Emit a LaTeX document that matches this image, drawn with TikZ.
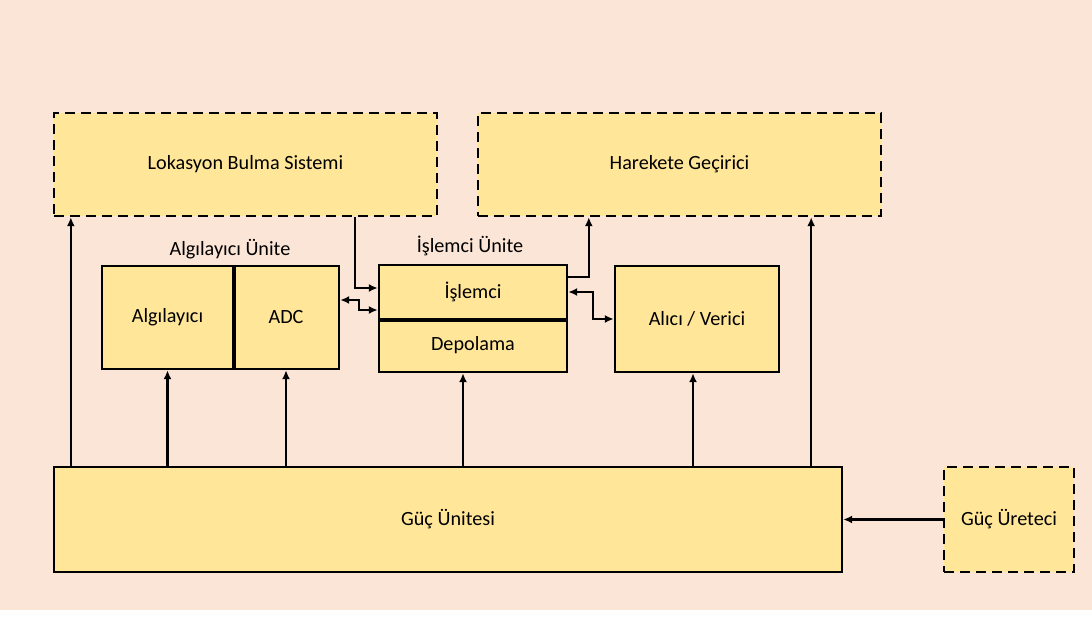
\documentclass[tikz,border=0pt]{standalone}
\usepackage{fontspec}
\setmainfont{Carlito}
\usetikzlibrary{arrows.meta}
\definecolor{bgpeach}{HTML}{FBE5D6}
\definecolor{boxgold}{HTML}{FFE699}

\begin{document}
\begin{tikzpicture}[x=1pt,y=-1pt]
		\tikzset{
			box/.style ={
				rectangle, %矩形节点
				inner sep=0pt, %文字和边框的距离
				draw=black, %边框颜色
				line width=2.4pt, %边框粗细
				fill=boxgold, %填充颜色
				font=\fontsize{20.2}{24}\selectfont
			},
			dbox/.style ={
				box,
				dash pattern=on 10pt off 6pt %虚线边框
			},
			title/.style ={
				font=\fontsize{20.2}{24}\selectfont
			},
			link/.style ={
				line width=2.2pt,
				-{Latex[length=9pt,width=8pt]}
			},
			dlink/.style ={
				line width=2.2pt,
				{Latex[length=9pt,width=8pt]}-{Latex[length=9pt,width=8pt]}
			}
		}
		% 背景
		\fill[bgpeach] (0,0) rectangle (1092,610);
		\useasboundingbox (0,0) rectangle (1092,617);
		\node[dbox,minimum width=383pt,minimum height=103pt] (lok) at(245.5,164.5){Lokasyon Bulma Sistemi};
		\node[dbox,minimum width=403pt,minimum height=103pt] (har) at(679.5,164.5){Harekete Geçirici};
		\node[box,minimum width=131pt,minimum height=103pt] (alg) at(167.5,317.5){Algılayıcı};
		\node[box,minimum width=106pt,minimum height=103pt] (adc) at(286,317.5){ADC};
		\node[box,minimum width=188pt,minimum height=54pt] (isl) at(473,292){İşlemci};
		\node[box,minimum width=188pt,minimum height=53pt] (dep) at(473,345.5){Depolama};
		\node[box,minimum width=164pt,minimum height=106pt] (alv) at(697,319){Alıcı / Verici};
		\node[box,minimum width=788pt,minimum height=105pt] (guc) at(448,519.5){Güç Ünitesi};
		\node[dbox,minimum width=130pt,minimum height=105pt] (ure) at(1009,519.5){Güç Üreteci};
		\node[title] (algu) at(230,249){Algılayıcı Ünite};
		\node[title] (islu) at(470,246){İşlemci Ünite};
		% 相邻边框
		\draw[line width=4pt] (alg.north east)--(alg.south east);
		\draw[line width=4pt] (isl.south west)--(isl.south east);
		% 电源连线
		\draw[link] ([xshift=18pt]lok.south west |- guc.north)--([xshift=18pt]lok.south west);
		\draw[link] (alg.south |- guc.north)--(alg.south);
		\draw[link] (adc.south |- guc.north)--(adc.south);
		\draw[link] ([xshift=-10pt]dep.south |- guc.north)--([xshift=-10pt]dep.south);
		\draw[link] ([xshift=-4pt]alv.south |- guc.north)--([xshift=-4pt]alv.south);
		\draw[link] ([xshift=-71pt]har.south east |- guc.north)--([xshift=-71pt]har.south east);
		\draw[link] (ure.west)--(guc.east);
		% 处理器连线
		\draw[link] ([xshift=-83pt]lok.south east) |- ([yshift=4pt]isl.west);
		\draw[dlink] ([yshift=17.5pt]adc.east)--++(19,0) |- ([yshift=-18pt]isl.west);
		\draw[link] ([yshift=15pt]isl.east) -| ([xshift=112pt]har.south west);
		\draw[dlink] (isl.east)--++(25,0) |- (alv.west);
	\end{tikzpicture}
\end{document}
